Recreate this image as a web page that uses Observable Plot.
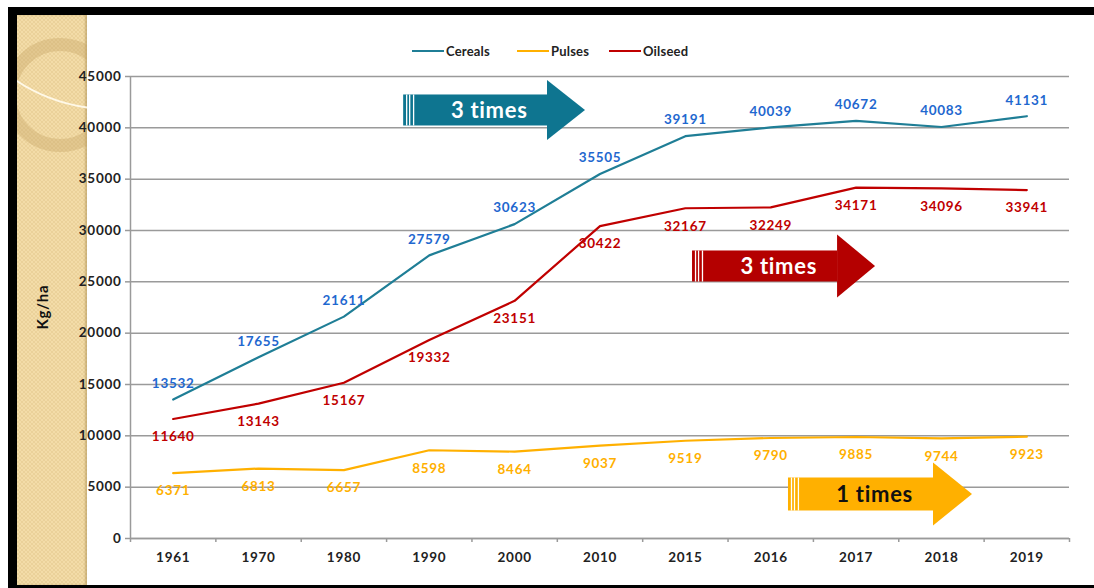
<!DOCTYPE html>
<html>
<head>
<meta charset="utf-8">
<script src="https://cdn.jsdelivr.net/npm/d3@7"></script>
<script src="https://cdn.jsdelivr.net/npm/@observablehq/plot@0.6"></script>
<style>
  html, body { margin: 0; padding: 0; background: #fff; }
  #wrap { position: relative; width: 1094px; height: 588px; overflow: hidden; background: #fff; font-family: Lato, sans-serif; }
  .bar { position: absolute; background: #000; }
  #stripe { position: absolute; left: 17px; top: 15px; width: 70px; height: 570px; overflow: hidden;
    background-color: #F3DCA8;
    background-image: repeating-conic-gradient(rgba(190,150,80,0.16) 0% 25%, transparent 0% 50%);
    background-size: 4px 4px;
    box-shadow: inset -2px 0 2px rgba(160,130,70,0.45); }
  .ring { position: absolute; border-radius: 50%; box-sizing: border-box; }
  #chart { position: absolute; left: 0; top: 0; z-index: 1; }
  #legend { position: absolute; top: 43px; left: 0; width: 1094px; height: 16px; z-index: 2; font: bold 13px Lato, sans-serif; color: #222; }
  #legend .item { position: absolute; top: 0; display: flex; align-items: center; height: 16px; letter-spacing: 0.2px; }
  #legend .sw { width: 32px; height: 2px; margin-right: 2px; }
</style>
</head>
<body>
<div id="wrap">
  <div class="bar" style="left:8px; top:7px; width:1086px; height:8px;"></div>
  <div class="bar" style="left:8px; top:7px; width:9px; height:581px;"></div>
  <div class="bar" style="left:8px; top:585px; width:1086px; height:3px;"></div>
  <div id="stripe">
    <div class="ring" style="left:-14px; top:23px; width:114px; height:114px; border:13px solid rgba(200,168,105,0.4);"></div>
    <div class="ring" style="left:-77px; top:-245px; width:340px; height:340px; border:2px solid rgba(255,250,235,0.95);"></div>
  </div>
  <div id="legend">
    <div class="item" style="left:412px"><div class="sw" style="background:#1F7E96"></div>Cereals</div>
    <div class="item" style="left:517px"><div class="sw" style="background:#FFB000"></div>Pulses</div>
    <div class="item" style="left:609px"><div class="sw" style="background:#C00000"></div>Oilseed</div>
  </div>
  <div id="chart"></div>
</div>
<script>
const years = ["1961","1970","1980","1990","2000","2010","2015","2016","2017","2018","2019"];
const cereals = [13532,17655,21611,27579,30623,35505,39191,40039,40672,40083,41131];
const pulses = [6371,6813,6657,8598,8464,9037,9519,9790,9885,9744,9923];
const oilseed = [11640,13143,15167,19332,23151,30422,32167,32249,34171,34096,33941];
const yTicks = [0,5000,10000,15000,20000,25000,30000,35000,40000,45000];

const seriesColors = {Cereals: "#1F7E96", Pulses: "#FFB000", Oilseed: "#C00000"};
const labelColors = {Cereals: "#1F68CF", Pulses: "#FFB000", Oilseed: "#C00000"};

// annotation arrows (in data units: x = category index, y = Kg/ha)
const arrows = [
  {label: "3 times", color: "#0E7590", text: "#fff", x0: 2.70, xb: 4.385, xt: 4.83, y: 41690, bh: 1510, hh: 2920},
  {label: "3 times", color: "#B40000", text: "#fff", x0: 6.084, xb: 7.783, xt: 8.228, y: 26495, bh: 1510, hh: 3070},
  {label: "1 times", color: "#FFB000", text: "#111", x0: 7.208, xb: 8.907, xt: 9.364, y: 4286, bh: 1607, hh: 3068}
];

const rows = [];
years.forEach((yr, i) => {
  rows.push({i, year: yr, series: "Cereals", v: cereals[i]});
  rows.push({i, year: yr, series: "Pulses", v: pulses[i]});
  rows.push({i, year: yr, series: "Oilseed", v: oilseed[i]});
});

const heads = [];
arrows.forEach((a, k) => {
  heads.push({k, x: a.xb, y1: a.y - a.hh, y2: a.y + a.hh});
  heads.push({k, x: a.xt, y1: a.y, y2: a.y});
});
const step = 0.0353;
const stripes = [];
arrows.forEach(a => { [1, 2, 3].forEach(j => stripes.push({x: a.x0 + j * step * (j === 3 ? 1.1 : 1), y1: a.y - a.bh, y2: a.y + a.bh})); });

const plot = Plot.plot({
  width: 1094,
  height: 588,
  marginLeft: 130,
  marginRight: 25,
  marginTop: 76,
  marginBottom: 50,
  style: {background: "transparent", fontFamily: "Lato, sans-serif", color: "#222"},
  x: {type: "linear", domain: [-0.5, 10.5]},
  y: {domain: [0, 45000]},
  marks: [
    Plot.gridY(yTicks, {stroke: "#9a9a9a", strokeOpacity: 1, strokeWidth: 1.5}),
    Plot.axisY({ticks: yTicks, tickSize: 5, tickPadding: 4, tickFormat: d => String(d), fontSize: 13.5, fontWeight: "bold", stroke: "#9a9a9a", strokeWidth: 1.5, label: null}),
    Plot.axisX({ticks: d3.range(-0.5, 11, 1), tickSize: 4, tickFormat: () => "", stroke: "#9a9a9a", strokeWidth: 1.5, label: null}),
    Plot.axisX({ticks: d3.range(0, 11), tickSize: 0, tickPadding: 14, tickFormat: i => years[i], fontSize: 13.5, fontWeight: "bold", label: null}),
    Plot.ruleX([-0.5], {stroke: "#9a9a9a", strokeWidth: 1.5}),
    Plot.ruleY([0], {stroke: "#9a9a9a", strokeWidth: 1.5}),
    Plot.text(["Kg/ha"], {frameAnchor: "left", dx: -87, dy: 22, rotate: -90, fontSize: 15, fontWeight: "bold", fill: "#111"}),
    // arrows
    Plot.rect(arrows, {x1: "x0", x2: "xb", y1: d => d.y - d.bh, y2: d => d.y + d.bh, fill: "color"}),
    Plot.areaY(heads, {x: "x", y1: "y1", y2: "y2", z: "k", fill: d => arrows[d.k].color, curve: "linear"}),
    Plot.ruleX(stripes, {x: "x", y1: "y1", y2: "y2", stroke: "#fff", strokeWidth: 1.3}),
    Plot.text(arrows, {x: d => (d.x0 + d.xb) / 2 + 0.16, y: "y", text: "label", fill: "text", fontSize: 22, fontWeight: "bold"}),
    // lines
    Plot.line(rows, {x: "i", y: "v", z: "series", stroke: d => seriesColors[d.series], strokeWidth: 2.2}),
    // labels
    Plot.text(rows.filter(d => d.series === "Cereals"), {x: "i", y: "v", text: d => String(d.v), dy: -16, fill: labelColors.Cereals, fontSize: 13.5, fontWeight: "bold"}),
    Plot.text(rows.filter(d => d.series === "Oilseed"), {x: "i", y: "v", text: d => String(d.v), dy: 18, fill: labelColors.Oilseed, fontSize: 13.5, fontWeight: "bold"}),
    Plot.text(rows.filter(d => d.series === "Pulses"), {x: "i", y: "v", text: d => String(d.v), dy: 18, fill: labelColors.Pulses, fontSize: 13.5, fontWeight: "bold"})
  ]
});
plot.querySelectorAll("text").forEach(t => t.style.letterSpacing = "0.7px");
document.getElementById("chart").appendChild(plot);
</script>
</body>
</html>
